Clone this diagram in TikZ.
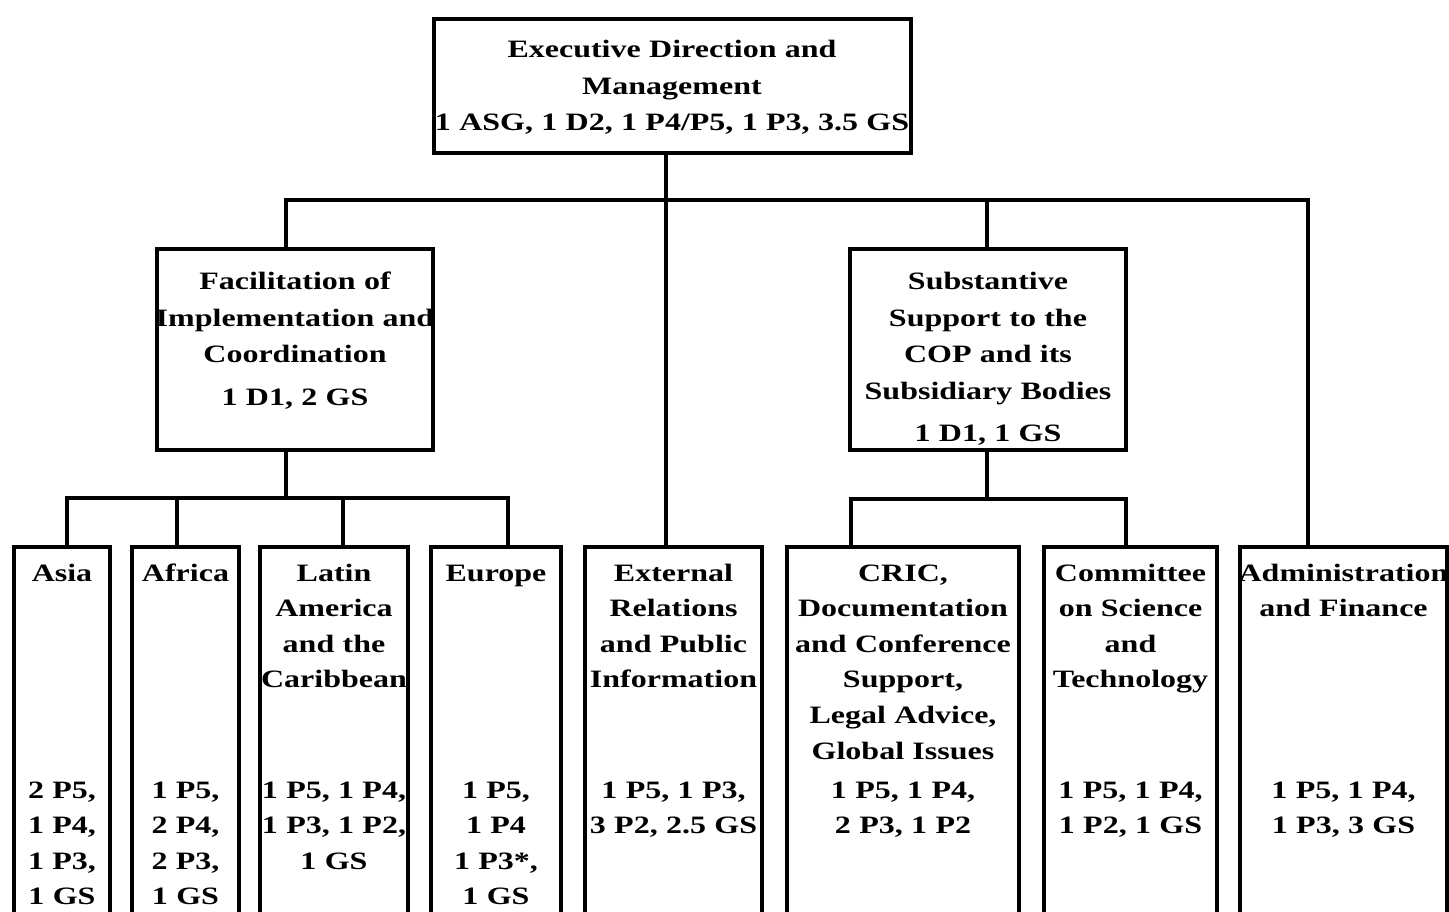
\documentclass[tikz,border=0pt]{standalone}
\usepackage{fontspec}
\setmainfont{Liberation Serif}[FakeStretch=1.28]
\begin{document}
\begin{tikzpicture}[x=1pt,y=-1pt,
  box/.style={draw, line width=4pt, inner sep=0pt, outer sep=0pt, rectangle},
  wire/.style={line width=4pt},
  txt/.style={inner sep=0pt, anchor=base, text width=560pt, align=center, font=\bfseries\fontsize{25}{36.5}\selectfont},
  low/.style={txt, font=\bfseries\fontsize{25}{35.6}\selectfont}]
\path[use as bounding box] (0,0) rectangle (1449,912);
\clip (0,0) rectangle (1449,912);
% boxes
\node[box, minimum width=477pt, minimum height=134pt] (top) at (672.5,86) {};
\node[box, minimum width=276pt, minimum height=201pt] (fac) at (295,349.5) {};
\node[box, minimum width=276pt, minimum height=201pt] (sub) at (988,349.5) {};
\node[box, minimum width=96pt,  minimum height=423pt] (asia) at (62,758.5) {};
\node[box, minimum width=107pt, minimum height=423pt] (afr) at (185.5,758.5) {};
\node[box, minimum width=148pt, minimum height=423pt] (lat) at (334,758.5) {};
\node[box, minimum width=130pt, minimum height=423pt] (eur) at (496,758.5) {};
\node[box, minimum width=177pt, minimum height=423pt] (ext) at (673.5,758.5) {};
\node[box, minimum width=232pt, minimum height=423pt] (cric) at (903,758.5) {};
\node[box, minimum width=173pt, minimum height=423pt] (cst) at (1130.5,758.5) {};
\node[box, minimum width=207pt, minimum height=423pt] (adm) at (1343.5,758.5) {};
% bus coordinates
\coordinate (b0) at (666,200);
\coordinate (b0L) at (286,200);
\coordinate (b0S) at (987,200);
\coordinate (b0R) at (1308,200);
\coordinate (b1) at (286,498);
\coordinate (b1L) at (67,498);
\coordinate (b1a) at (177,498);
\coordinate (b1b) at (343,498);
\coordinate (b1R) at (508,498);
\coordinate (b2) at (987,499);
\coordinate (b2L) at (851,499);
\coordinate (b2R) at (1126,499);
% connectors
\draw[wire] (top.south -| b0) -- (b0);
\draw[wire] (fac.north -| b0L) -- (b0L) -- (b0R) -- (adm.north -| b0R);
\draw[wire] (b0) -- (ext.north -| b0);
\draw[wire] (b0S) -- (sub.north -| b0S);
\draw[wire] (fac.south -| b1) -- (b1);
\draw[wire] (asia.north -| b1L) -- (b1L) -- (b1R) -- (eur.north -| b1R);
\draw[wire] (b1a) -- (afr.north -| b1a);
\draw[wire] (b1b) -- (lat.north -| b1b);
\draw[wire] (sub.south -| b2) -- (b2);
\draw[wire] (cric.north -| b2L) -- (b2L) -- (b2R) -- (cst.north -| b2R);
% texts
\node[txt] (tTop) at (672,58) {Executive Direction and\\Management\\1 ASG, 1 D2, 1 P4/P5, 1 P3, 3.5 GS};
\node[txt] (tFac) at (295,290) {Facilitation of\\Implementation and\\Coordination\\[6pt]1 D1, 2 GS};
\node[txt] (tSub) at (988,290) {Substantive\\Support to the\\COP and its\\Subsidiary Bodies\\[6pt]1 D1, 1 GS};
\node[low] (hAsia) at (62,581) {Asia};
\node[low] (hAfr) at (185.5,581) {Africa};
\node[low] (hLat) at (334,581) {Latin\\America\\and the\\Caribbean};
\node[low] (hEur) at (496,581) {Europe};
\node[low] (hExt) at (673.5,581) {External\\Relations\\and Public\\Information};
\node[low] (hCric) at (903,581) {CRIC,\\Documentation\\and Conference\\Support,\\Legal Advice,\\Global Issues};
\node[low] (hCst) at (1130.5,581) {Committee\\on Science\\and\\Technology};
\node[low] (hAdm) at (1343.5,581) {Administration\\and Finance};
\node[low] (sAsia) at (62,798) {2 P5,\\1 P4,\\1 P3,\\1 GS};
\node[low] (sAfr) at (185.5,798) {1 P5,\\2 P4,\\2 P3,\\1 GS};
\node[low] (sLat) at (334,798) {1 P5, 1 P4,\\1 P3, 1 P2,\\1 GS};
\node[low] (sEur) at (496,798) {1 P5,\\1 P4\\1 P3*,\\1 GS};
\node[low] (sExt) at (673.5,798) {1 P5, 1 P3,\\3 P2, 2.5 GS};
\node[low] (sCric) at (903,798) {1 P5, 1 P4,\\2 P3, 1 P2};
\node[low] (sCst) at (1130.5,798) {1 P5, 1 P4,\\1 P2, 1 GS};
\node[low] (sAdm) at (1343.5,798) {1 P5, 1 P4,\\1 P3, 3 GS};
\end{tikzpicture}
\end{document}
